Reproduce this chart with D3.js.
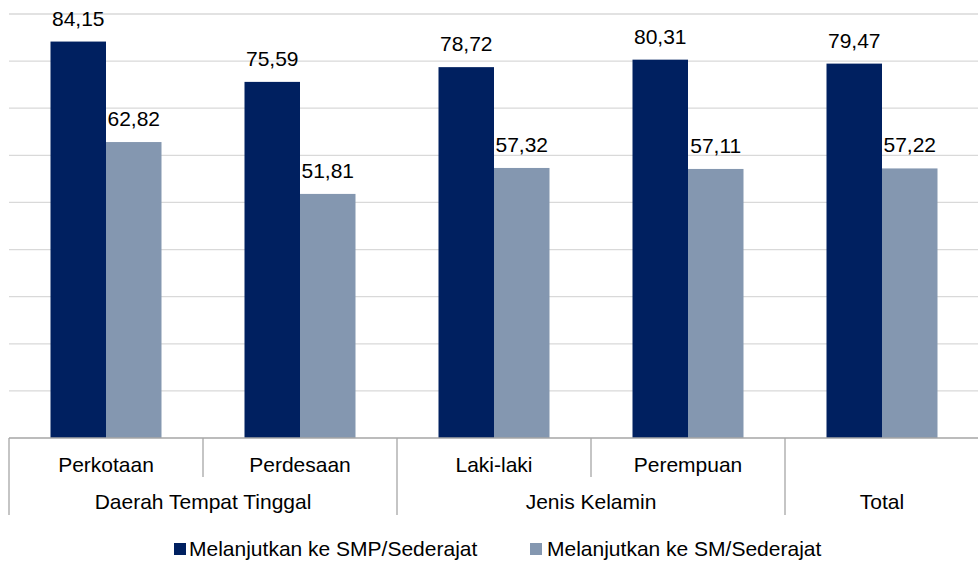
<!DOCTYPE html>
<html><head><meta charset="utf-8">
<script src="https://cdn.jsdelivr.net/npm/d3@7/dist/d3.min.js"></script>
<style>body{margin:0;background:#fff}svg{display:block;font-family:"Liberation Sans",Arial,sans-serif}</style>
</head><body><svg id="c" width="978" height="561"></svg>
<script>
const categories = ["Perkotaan","Perdesaan","Laki-laki","Perempuan","Total"];
const groups = [
  {name:"Daerah Tempat Tinggal", from:0, to:1},
  {name:"Jenis Kelamin", from:2, to:3},
  {name:"Total", from:4, to:4}
];
const seriesNames = ["Melanjutkan ke SMP/Sederajat","Melanjutkan ke SM/Sederajat"];
const smpValues = [84.15, 75.59, 78.72, 80.31, 79.47];
const smValues = [62.82, 51.81, 57.32, 57.11, 57.22];
const yTicks = [0,10,20,30,40,50,60,70,80,90];
const colors = ["#002060","#8497b0"];

(function(){
const svg = d3.select("#c");
const pLeft = 9, pRight = 979, pTop = 14, base = 438;
const x0 = d3.scaleBand().domain(categories).range([pLeft, pRight]).padding(0);
const bw = x0.bandwidth();
const x1 = d3.scaleBand().domain(seriesNames).range([bw/2 - 55.5, bw/2 + 55.5]).padding(0);
const y = d3.scaleLinear().domain([0, 90]).range([base, pTop]);

svg.append("g").selectAll("line").data(yTicks.slice(1)).join("line")
  .attr("x1", pLeft).attr("x2", 978).attr("y1", d=>y(d)).attr("y2", d=>y(d))
  .attr("stroke", "#d9d9d9").attr("stroke-width", 1.3);

const values = [smpValues, smValues];
const data = categories.map((c,i)=>({cat:c, vals: seriesNames.map((s,j)=>({s, v: values[j][i], j}))}));

const g = svg.append("g").selectAll("g").data(data).join("g")
  .attr("transform", d=>`translate(${x0(d.cat)},0)`);
g.selectAll("rect").data(d=>d.vals).join("rect")
  .attr("x", d=>x1(d.s)).attr("width", x1.bandwidth())
  .attr("y", d=>y(d.v)).attr("height", d=>y(0)-y(d.v))
  .attr("fill", d=>colors[d.j]);
g.selectAll("text").data(d=>d.vals).join("text")
  .attr("x", d=>x1(d.s)+x1.bandwidth()/2).attr("y", d=>y(d.v)-16)
  .attr("text-anchor","middle").attr("font-size", 21).attr("fill","#000")
  .text(d=>d3.format(".2f")(d.v).replace(".", ","));

svg.append("line").attr("x1", pLeft).attr("x2", 978).attr("y1", base).attr("y2", base)
  .attr("stroke", "#a6a6a6").attr("stroke-width", 1.3);

const axisColor = "#a6a6a6";
categories.forEach((c,i)=>{
  const bx = x0(c);
  const isGroupStart = groups.some(gr=>gr.from===i);
  svg.append("line").attr("x1", bx).attr("x2", bx).attr("y1", base)
    .attr("y2", isGroupStart ? 515 : 477).attr("stroke", axisColor).attr("stroke-width", 1.3);
});
const singleGroupCats = groups.filter(gr=>gr.from===gr.to).map(gr=>categories[gr.from]);
svg.append("g").selectAll("text").data(categories.filter(c=>!singleGroupCats.includes(c))).join("text")
  .attr("x", d=>x0(d)+bw/2).attr("y", 472).attr("text-anchor","middle")
  .attr("font-size", 21).attr("fill","#000").text(d=>d);
svg.append("g").selectAll("text").data(groups).join("text")
  .attr("x", d=>(x0(categories[d.from]) + x0(categories[d.to]) + bw)/2).attr("y", 509)
  .attr("text-anchor","middle").attr("font-size", 21).attr("fill","#000").text(d=>d.name);

const legendX = [174, 530];
const lg = svg.append("g").selectAll("g").data(seriesNames).join("g")
  .attr("transform", (d,i)=>`translate(${legendX[i]},543)`);
lg.append("rect").attr("width", 12).attr("height", 12).attr("fill", (d,i)=>colors[i]);
lg.append("text").attr("x", (d,i)=> i===0 ? 15 : 17).attr("y", 13).attr("font-size", 21).attr("fill","#000").text(d=>d);
})();
</script></body></html>
